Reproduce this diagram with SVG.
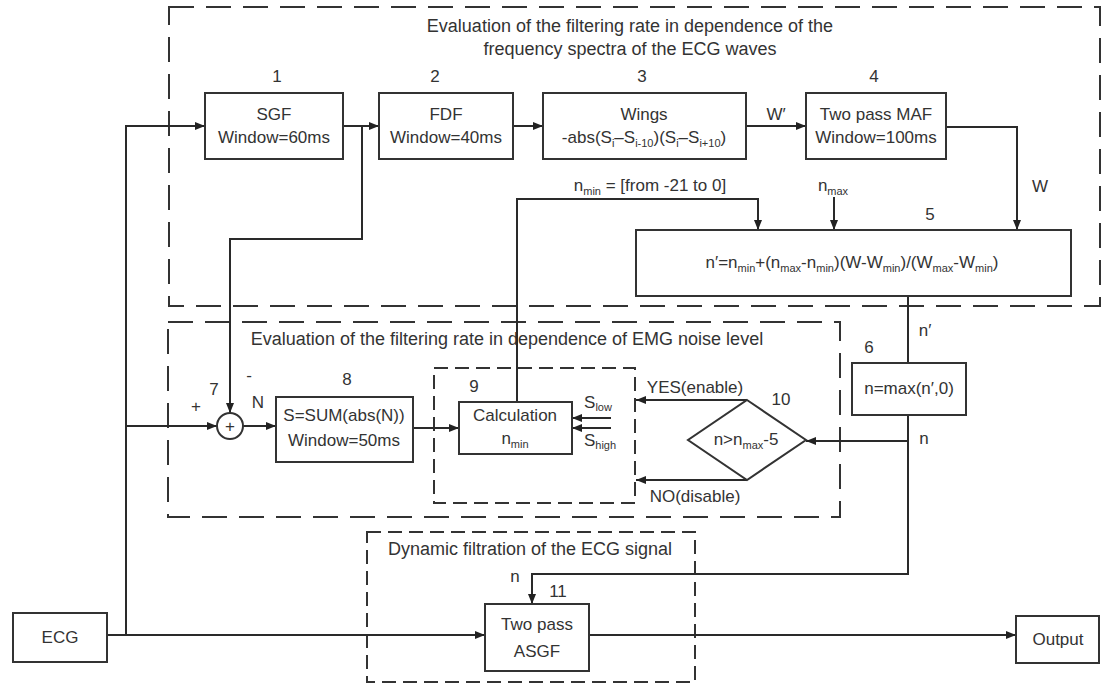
<svg xmlns="http://www.w3.org/2000/svg" width="1102" height="684" viewBox="0 0 1102 684">
<defs>
<marker id="arr" markerWidth="10" markerHeight="8" refX="10" refY="4" orient="auto" markerUnits="userSpaceOnUse">
<path d="M0,0 L10,4 L0,8 z" fill="#222"/>
</marker>
</defs>
<style>
text{font-family:"Liberation Sans",Arial,sans-serif;fill:#333;}
.t{font-size:17px;text-anchor:middle;}
.h{font-size:18px;text-anchor:middle;}
.s{font-size:11px;}
.box{fill:#fff;stroke:#333;stroke-width:2;}
.dash{fill:none;stroke:#333;stroke-width:2;stroke-dasharray:25 12;}
.dash2{fill:none;stroke:#333;stroke-width:2;stroke-dasharray:14 7;}
.c{fill:none;stroke:#2a2a2a;stroke-width:2;}
.ca{fill:none;stroke:#2a2a2a;stroke-width:2;marker-end:url(#arr);}
</style>
<rect width="1102" height="684" fill="#fff"/>

<g id="regions">
<rect class="dash" x="169" y="7" width="931" height="299"/>
<text class="h" x="630" y="32">Evaluation of the filtering rate in dependence of the</text>
<text class="h" x="630" y="55">frequency spectra of the ECG waves</text>
<rect class="dash" x="168" y="322" width="672" height="195"/>
<text class="h" x="507" y="345">Evaluation of the filtering rate in dependence of EMG noise level</text>
<rect class="dash2" x="434" y="368" width="201" height="135"/>
<rect class="dash2" x="367" y="532" width="328" height="150"/>
<text class="h" x="530" y="555">Dynamic filtration of the ECG signal</text>
</g>

<g id="connectors">
<path class="ca" d="M107,635 H485"/>
<path class="ca" d="M126,635 V126 H205"/>
<path class="ca" d="M126,426 H217"/>
<path class="ca" d="M343,126 H379"/>
<path class="ca" d="M362,126 V239 H230 V413"/>
<path class="ca" d="M513,126 H543"/>
<path class="ca" d="M746,126 H806"/>
<path class="ca" d="M946,127 H1017 V230"/>
<path class="ca" d="M834,197 V230"/>
<path class="ca" d="M517,402 V199 H758 V230"/>
<path class="c" d="M908,296 V363"/>
<path class="ca" d="M908,415 V574 H532 V604"/>
<path class="ca" d="M908,441 H806"/>
<path class="ca" d="M747,400 H636"/>
<path class="ca" d="M747,480 H636"/>
<path class="ca" d="M611,418 H572"/>
<path class="ca" d="M611,428 H572"/>
<path class="ca" d="M243,426 H276"/>
<path class="ca" d="M413,428 H459"/>
<path class="ca" d="M589,635 H1016"/>
<text class="t" x="776" y="120">W′</text>
<text class="t" x="1040" y="192">W</text>
<text class="t" x="650" y="191">n<tspan class="s" dy="4">min</tspan><tspan dy="-4"> = [from -21 to 0]</tspan></text>
<text class="t" x="833" y="191">n<tspan class="s" dy="4">max</tspan></text>
<text class="t" x="925" y="336">n′</text>
<text class="t" x="924" y="444">n</text>
<text class="t" x="515" y="582">n</text>
<text class="t" x="695" y="393">YES(enable)</text>
<text class="t" x="695" y="502">NO(disable)</text>
<text class="t" x="598" y="408">S<tspan class="s" dy="3">low</tspan></text>
<text class="t" x="600" y="446">S<tspan class="s" dy="3">high</tspan></text>
<text class="t" x="196" y="412">+</text>
<text class="t" x="249" y="381">-</text>
<text class="t" x="258" y="408">N</text>
</g>

<g id="n1">
<rect class="box" x="205" y="93" width="138" height="66"/>
<text class="t" x="274" y="120">SGF</text>
<text class="t" x="274" y="143">Window=60ms</text>
<text class="t" x="277" y="82">1</text>
</g>
<g id="n2">
<rect class="box" x="379" y="93" width="134" height="66"/>
<text class="t" x="446" y="120">FDF</text>
<text class="t" x="446" y="143">Window=40ms</text>
<text class="t" x="435" y="82">2</text>
</g>
<g id="n3">
<rect class="box" x="543" y="93" width="203" height="66"/>
<text class="t" x="644" y="120">Wings</text>
<text class="t" x="644" y="143">-abs(S<tspan class="s" dy="4">i</tspan><tspan dy="-4">–S</tspan><tspan class="s" dy="4">i-10</tspan><tspan dy="-4">)(S</tspan><tspan class="s" dy="4">i</tspan><tspan dy="-4">–S</tspan><tspan class="s" dy="4">i+10</tspan><tspan dy="-4">)</tspan></text>
<text class="t" x="642" y="82">3</text>
</g>
<g id="n4">
<rect class="box" x="806" y="93" width="140" height="66"/>
<text class="t" x="876" y="120">Two pass MAF</text>
<text class="t" x="876" y="143">Window=100ms</text>
<text class="t" x="874" y="82">4</text>
</g>
<g id="n5">
<rect class="box" x="636" y="230" width="435" height="66"/>
<text class="t" x="852" y="268">n′=n<tspan class="s" dy="4">min</tspan><tspan dy="-4">+(n</tspan><tspan class="s" dy="4">max</tspan><tspan dy="-4">-n</tspan><tspan class="s" dy="4">min</tspan><tspan dy="-4">)(W-W</tspan><tspan class="s" dy="4">min</tspan><tspan dy="-4">)/(W</tspan><tspan class="s" dy="4">max</tspan><tspan dy="-4">-W</tspan><tspan class="s" dy="4">min</tspan><tspan dy="-4">)</tspan></text>
<text class="t" x="930" y="220">5</text>
</g>
<g id="n6">
<rect class="box" x="852" y="363" width="114" height="52"/>
<text class="t" x="909" y="394">n=max(n′,0)</text>
<text class="t" x="869" y="353">6</text>
</g>
<g id="n7">
<circle cx="230" cy="426" r="13" fill="#fff" stroke="#333" stroke-width="2"/>
<text class="t" x="230" y="432">+</text>
<text class="t" x="214" y="395">7</text>
</g>
<g id="n8">
<rect class="box" x="276" y="397" width="137" height="65"/>
<text class="t" x="344" y="421">S=SUM(abs(N))</text>
<text class="t" x="344" y="446">Window=50ms</text>
<text class="t" x="347" y="385">8</text>
</g>
<g id="n9">
<rect class="box" x="459" y="402" width="113" height="52"/>
<text class="t" x="515" y="421">Calculation</text>
<text class="t" x="515" y="444">n<tspan class="s" dy="4">min</tspan></text>
<text class="t" x="474" y="392">9</text>
</g>
<g id="n10">
<polygon points="747,400 806,440 747,480 688,440" fill="#fff" stroke="#333" stroke-width="2"/>
<text class="t" x="746" y="445">n&gt;n<tspan class="s" dy="4">max</tspan><tspan dy="-4">-5</tspan></text>
<text class="t" x="781" y="405">10</text>
</g>
<g id="n11">
<rect class="box" x="485" y="604" width="104" height="67"/>
<text class="t" x="537" y="630">Two pass</text>
<text class="t" x="537" y="657">ASGF</text>
<text class="t" x="558" y="597">11</text>
</g>
<g id="ecg">
<rect class="box" x="13" y="613" width="94" height="49"/>
<text class="t" x="60" y="643">ECG</text>
</g>
<g id="output">
<rect class="box" x="1016" y="616" width="83" height="47"/>
<text class="t" x="1058" y="645">Output</text>
</g>
</svg>
